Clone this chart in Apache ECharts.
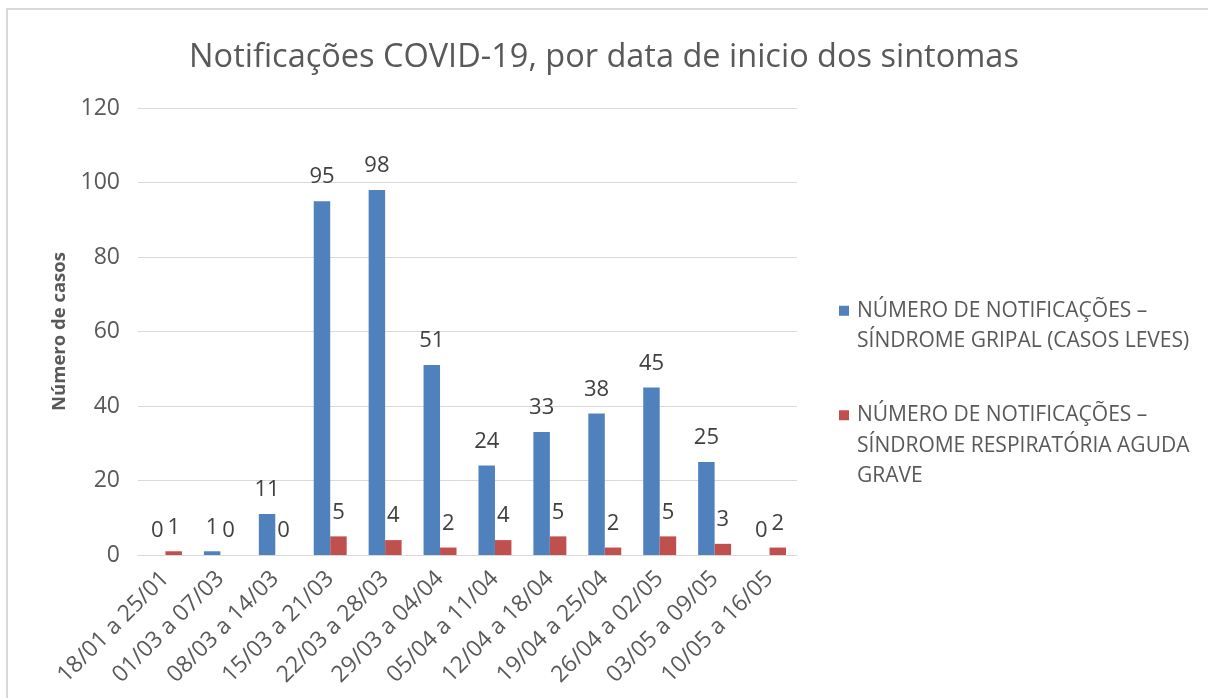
<!DOCTYPE html>
<html>
<head>
<meta charset="utf-8">
<script src="https://cdn.jsdelivr.net/npm/echarts@6/dist/echarts.min.js"></script>
<style>html,body{margin:0;padding:0;background:#fff}#c{width:1208px;height:698px}</style>
</head>
<body>
<div id="c"></div>
<script>
const categories = ["18/01 a 25/01","01/03 a 07/03","08/03 a 14/03","15/03 a 21/03","22/03 a 28/03","29/03 a 04/04","05/04 a 11/04","12/04 a 18/04","19/04 a 25/04","26/04 a 02/05","03/05 a 09/05","10/05 a 16/05"];
const gripal = [0,1,11,95,98,51,24,33,38,45,25,0];
const srag = [1,0,0,5,4,2,4,5,2,5,3,2];
const yTicks = [0,20,40,60,80,100,120];
const nameGripal = "NÚMERO DE NOTIFICAÇÕES –\nSÍNDROME GRIPAL (CASOS LEVES)";
const nameSrag = "NÚMERO DE NOTIFICAÇÕES –\nSÍNDROME RESPIRATÓRIA AGUDA\nGRAVE";

const FONT = "Open Sans";
const chart = echarts.init(document.getElementById('c'));
const labelStyle = {show:true, position:'top', distance:13, color:'#404040', fontSize:22, fontFamily:FONT};
const legendBase = {
  orient:'vertical', left:839, padding:0, itemWidth:10, itemHeight:10, icon:'rect',
  selectedMode:false,
  textStyle:{color:'#595959', fontSize:21, fontFamily:FONT, lineHeight:30.5, padding:[0,0,0,3]}
};
chart.setOption({
  animation:false,
  title:{text:'Notificações COVID-19, por data de inicio dos sintomas', left:'center', top:36,
    textStyle:{color:'#595959', fontSize:32.5, fontWeight:'normal', fontFamily:FONT}},
  graphic:[{type:'rect', shape:{x:7,y:9,width:1300,height:800}, style:{fill:'none', stroke:'#d9d9d9', lineWidth:2}, silent:true}],
  legend:[
    Object.assign({}, legendBase, {top:265, data:[nameGripal],
      formatter: n => ' \n' + n}),
    Object.assign({}, legendBase, {top:339, data:[nameSrag],
      formatter: n => ' \n \n' + n})
  ],
  grid:{left:138, right:411, top:108, bottom:143},
  xAxis:{type:'category', data:categories,
    axisLine:{lineStyle:{color:'#d9d9d9'}}, axisTick:{show:false},
    axisLabel:{rotate:45, interval:0, color:'#595959', fontSize:23, fontFamily:FONT, margin:20}},
  yAxis:{type:'value', min:0, max:120, interval:20,
    name:'Número de casos', nameLocation:'middle', nameRotate:90, nameGap:64,
    nameTextStyle:{color:'#595959', fontSize:18.5, fontWeight:'bold', fontFamily:FONT},
    axisLine:{show:false}, axisTick:{show:false},
    splitLine:{lineStyle:{color:'#d9d9d9'}},
    axisLabel:{color:'#595959', fontSize:23, fontFamily:FONT, margin:18,
      formatter: v => yTicks.includes(v) ? String(v) : ''}},
  series:[
    {name:nameGripal, type:'bar', data:gripal, itemStyle:{color:'#4F81BD'}, barGap:'0%', barCategoryGap:'40%', label:labelStyle},
    {name:nameSrag, type:'bar', data:srag, itemStyle:{color:'#C0504D'}, barGap:'0%', barCategoryGap:'40%', label:labelStyle}
  ]
});
</script>
</body>
</html>
